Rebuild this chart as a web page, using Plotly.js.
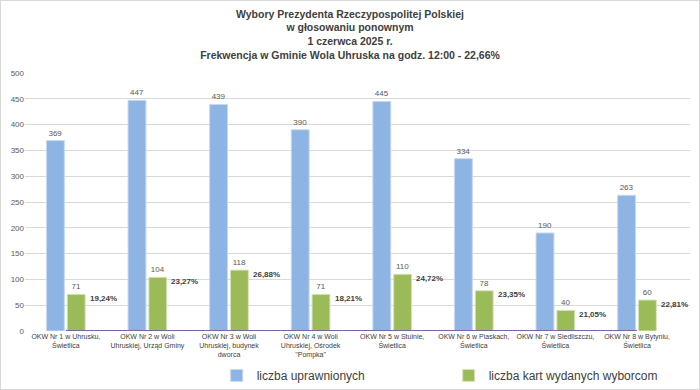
<!DOCTYPE html>
<html><head><meta charset="utf-8">
<script src="https://cdn.plot.ly/plotly-3.0.1.min.js"></script>
<style>
html,body{margin:0;padding:0;background:#fff;}
#wrap{position:absolute;left:0;top:0;width:698px;height:388px;border:1px solid #d9d9d9;}
#chart{width:698px;height:388px;}
</style></head>
<body><div id="wrap"><div id="chart"></div></div>
<script>
const categories = [
  "OKW Nr 1 w Uhrusku,<br>Świetlica",
  "OKW Nr 2 w Woli<br>Uhruskiej, Urząd Gminy",
  "OKW Nr 3 w Woli<br>Uhruskiej, budynek<br>dworca",
  "OKW Nr 4 w Woli<br>Uhruskiej, Ośrodek<br>\"Pompka\"",
  "OKW Nr 5 w Stulnie,<br>Świetlica",
  "OKW Nr 6 w Piaskach,<br>Świetlica",
  "OKW Nr 7 w Siedliszczu,<br>Świetlica",
  "OKW Nr 8 w Bytyniu,<br>Świetlica"
];
const uprawnieni = [369, 447, 439, 390, 445, 334, 190, 263];
const karty = [71, 104, 118, 71, 110, 78, 40, 60];
const frekwencja = [19.24, 23.27, 26.88, 18.21, 24.72, 23.35, 21.05, 22.81];
const frekwencjaLabels = ["19,24%", "23,27%", "26,88%", "18,21%", "24,72%", "23,35%", "21,05%", "22,81%"];

const FONT = "Liberation Sans Narrow, Arial Narrow, Liberation Sans, Arial, sans-serif";

const traces = [
  {type:'bar', name:'liczba uprawnionych', x:categories, y:uprawnieni,
   marker:{color:'#8EB4E3', line:{color:'#c6d9f1', width:1}},
   text:uprawnieni.map(String), textposition:'outside', cliponaxis:false,
   textfont:{size:8, color:'#595959', family:FONT}, hoverinfo:'none'},
  {type:'bar', name:'liczba kart wydanych wyborcom', x:categories, y:karty,
   marker:{color:'#9BBB59', line:{color:'#d7e4bd', width:1}},
   text:karty.map(String), textposition:'outside', cliponaxis:false,
   textfont:{size:8, color:'#595959', family:FONT}, hoverinfo:'none'},
  {type:'scatter', mode:'lines', name:'frekwencja', x:categories, y:frekwencja.map(v=>v/100),
   line:{color:'#8064A2', width:2}, showlegend:false, hoverinfo:'none', cliponaxis:false}
];

const annotations = categories.map((c,i)=>({
  x:c, y:karty[i], xref:'x', yref:'y', text:'<b>'+frekwencjaLabels[i]+'</b>',
  showarrow:false, xanchor:'left', yanchor:'middle', xshift:22, yshift:-4,
  font:{size:8, color:'#404040', family:FONT}
}));

const layout = {
  width:698, height:388,
  margin:{l:24, r:9, t:72, b:58},
  paper_bgcolor:'#fff', plot_bgcolor:'#fff',
  font:{family:FONT, color:'#595959'},
  title:{text:'<b>Wybory Prezydenta Rzeczypospolitej Polskiej<br>w głosowaniu ponownym<br>1 czerwca 2025 r.<br>Frekwencja w Gminie Wola Uhruska na godz. 12:00 - 22,66%</b>',
    font:{size:10.5, color:'#404040', family:FONT}, x:0.5, xanchor:'center', y:0.957, yanchor:'top'},
  barmode:'group', bargap:0.49, bargroupgap:0.14,
  xaxis:{tickfont:{size:7, color:'#404040', family:FONT}, tickangle:0, automargin:false,
    showline:false, ticks:'', showgrid:false},
  yaxis:{range:[0,500], dtick:50, gridcolor:'#d9d9d9', gridwidth:1, zeroline:false, automargin:false,
    tickfont:{size:8, color:'#595959', family:FONT}, ticks:'', showline:false},
  legend:{orientation:'h', xref:'container', yref:'container', x:0.309, xanchor:'left',
    y:0.035, yanchor:'middle',
    font:{size:12, color:'#404040', family:FONT}, entrywidth:187, itemwidth:30},
  annotations:annotations,
  showlegend:true
};

Plotly.newPlot('chart', traces, layout, {displayModeBar:false, staticPlot:true});
</script></body></html>
